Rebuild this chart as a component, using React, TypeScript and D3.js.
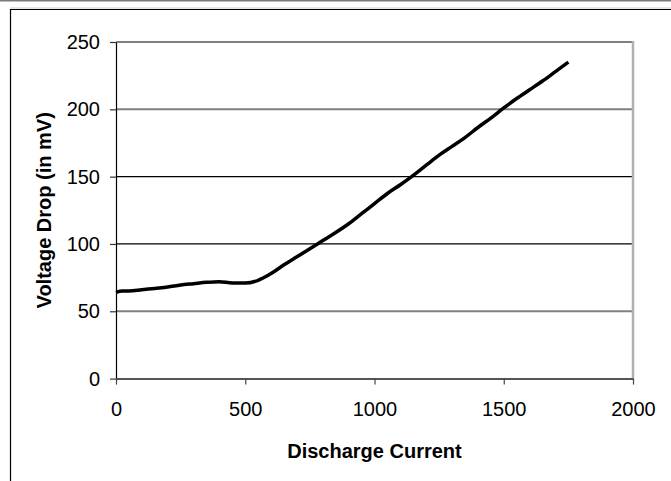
import { useEffect, useRef } from "react";
import * as d3 from "d3";

// discharge current (x) and measured voltage drop in mV (y)
const current = [0, 25, 50, 100, 150, 200, 250, 300, 350, 400, 450, 500, 550, 600, 650, 700, 750, 800, 850, 900, 950, 1000, 1050, 1100, 1150, 1200, 1250, 1300, 1350, 1400, 1450, 1500, 1550, 1600, 1650, 1700, 1750];
const voltageDrop = [64, 65, 65, 66, 67, 68, 69.5, 70.5, 71.5, 72, 71, 71, 73, 78, 84.5, 90.5, 96.5, 102.5, 108.5, 115, 122.5, 130, 137.5, 144, 151, 158.5, 166, 172.5, 179, 186.5, 193.5, 201, 208, 214.5, 221, 228, 235];
const xTicks = [0, 500, 1000, 1500, 2000];
const yTicks = [0, 50, 100, 150, 200, 250];

const App = () => {
  const ref = useRef(null);

  useEffect(() => {
    const W = 671;
    const H = 481;
    const left = 116;
    const right = 633;
    const top = 42;
    const bottom = 378.6;
    const font = "'Liberation Sans', Arial, sans-serif";

    const svg = d3.select(ref.current);
    svg.selectAll("*").remove();

    const x = d3.scaleLinear().domain([0, 2000]).range([left, right]);
    const y = d3.scaleLinear().domain([0, 250]).range([bottom, top]);

    svg.append("rect").attr("width", W).attr("height", H).attr("fill", "#fff");

    // outer frame
    svg.append("line").attr("x1", 0).attr("x2", W).attr("y1", 0.5).attr("y2", 0.5)
      .attr("stroke", "#7a7a7a").attr("stroke-width", 2);
    svg.append("line").attr("x1", 10).attr("x2", W).attr("y1", 8).attr("y2", 8)
      .attr("stroke", "#cfcfcf").attr("stroke-width", 1);
    svg.append("line").attr("x1", 10).attr("x2", W).attr("y1", 9.5).attr("y2", 9.5)
      .attr("stroke", "#000").attr("stroke-width", 1.2);
    svg.append("line").attr("x1", 10.5).attr("x2", 10.5).attr("y1", 9).attr("y2", H)
      .attr("stroke", "#000").attr("stroke-width", 1.2);

    // gridlines
    const gridStyle = (v) =>
      v === 100 || v === 150 ? { c: "#000", w: 1.2 } : { c: "#808080", w: 2 };
    yTicks.filter((v) => v > 0).forEach((v) => {
      const s = gridStyle(v);
      svg.append("line")
        .attr("x1", left).attr("x2", right)
        .attr("y1", y(v)).attr("y2", y(v))
        .attr("stroke", s.c).attr("stroke-width", s.w);
    });

    // right plot border
    svg.append("line").attr("x1", right).attr("x2", right).attr("y1", top - 1).attr("y2", bottom)
      .attr("stroke", "#b0b0b0").attr("stroke-width", 2.5);

    // y axis
    const yAxis = svg.append("g")
      .attr("transform", `translate(${left},0)`)
      .call(d3.axisLeft(y).tickValues(yTicks).tickFormat(d3.format("d")).tickSize(6).tickPadding(10).tickSizeOuter(0));
    yAxis.select(".domain").attr("stroke", "#000").attr("stroke-width", 1.2);
    yAxis.selectAll("line").attr("stroke", "#333").attr("stroke-width", 1.2);
    yAxis.selectAll("text")
      .attr("font-family", font)
      .attr("font-size", 20).attr("fill", "#000");

    // x axis
    const xAxis = svg.append("g")
      .attr("transform", `translate(0,${bottom})`)
      .call(d3.axisBottom(x).tickValues(xTicks).tickFormat(d3.format("d")).tickSize(6).tickPadding(17).tickSizeOuter(0));
    xAxis.select(".domain").attr("stroke", "#555").attr("stroke-width", 2);
    xAxis.selectAll("line").attr("stroke", "#444").attr("stroke-width", 1.2);
    xAxis.selectAll("text")
      .attr("font-family", font)
      .attr("font-size", 20).attr("fill", "#000");

    // data line
    const pts = current.map((c, i) => [c, voltageDrop[i]]);
    const line = d3.line()
      .x((d) => x(d[0]))
      .y((d) => y(d[1]))
      .curve(d3.curveMonotoneX);
    svg.append("path")
      .attr("d", line(pts))
      .attr("fill", "none")
      .attr("stroke", "#000")
      .attr("stroke-width", 3.5)
      .attr("stroke-linejoin", "round");

    // axis titles
    svg.append("text")
      .attr("x", (left + right) / 2)
      .attr("y", 458)
      .attr("text-anchor", "middle")
      .attr("font-family", font)
      .attr("font-weight", "bold")
      .attr("font-size", 20)
      .text("Discharge Current");

    svg.append("text")
      .attr("transform", `translate(51,${(top + bottom) / 2}) rotate(-90)`)
      .attr("text-anchor", "middle")
      .attr("font-family", font)
      .attr("font-weight", "bold")
      .attr("font-size", 20)
      .text("Voltage Drop (in mV)");
  }, []);

  return (
    <div style={{ position: "absolute", left: 0, top: 0 }}>
      <svg ref={ref} width={671} height={481} style={{ display: "block" }}></svg>
    </div>
  );
};

export default App;
